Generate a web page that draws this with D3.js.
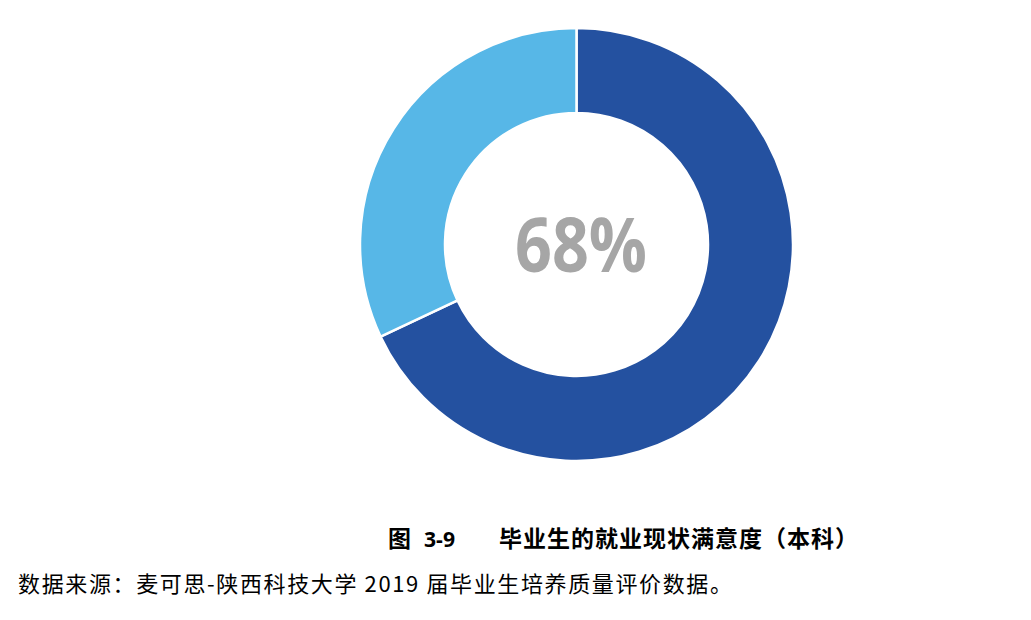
<!DOCTYPE html>
<html>
<head>
<meta charset="utf-8">
<script src="https://cdn.jsdelivr.net/npm/d3@7"></script>
<style>
  html, body { margin: 0; padding: 0; background: #fff; }
  svg { display: block; }
</style>
</head>
<body>
<div id="chart"></div>
<script>
// chart data
const categories = ["满意", "不满意"];
const values = [68, 32];
const sliceColors = ["#2451a0", "#57b7e7"];
const centerLabel = "68%";
const figNo = "3-9";
const figTitle = "毕业生的就业现状满意度（本科）";
const sourceNote = "数据来源：麦可思-陕西科技大学 2019 届毕业生培养质量评价数据。";

const width = 1031, height = 620;
const cx = 576.5, cy = 244.5;
const outerR = 216.5, innerR = 131.5;

const svg = d3.select("#chart").append("svg")
    .attr("width", width)
    .attr("height", height);

let color = d3.scaleOrdinal().domain(categories).range(sliceColors);

let pie = d3.pie().sort(null).value(d => d.value);
let arc = d3.arc().innerRadius(innerR).outerRadius(outerR);

let data = categories.map((c, i) => ({name: c, value: values[i]}));

let donut = svg.append("g")
    .attr("id", "donut")
    .attr("transform", "translate(" + cx + "," + cy + ")");

donut.selectAll("path")
    .data(pie(data))
    .enter()
    .append("path")
    .attr("d", arc)
    .style("fill", d => color(d.data.name))
    .style("stroke", "#ffffff")
    .style("stroke-width", 2.5);

// big percentage in the hole
donut.append("text")
    .attr("x", 4.5)
    .attr("y", 27.5)
    .attr("text-anchor", "middle")
    .attr("textLength", 132)
    .attr("lengthAdjust", "spacingAndGlyphs")
    .style("font-family", "'Open Sans', 'Liberation Sans', sans-serif")
    .style("font-weight", "bold")
    .style("font-size", "76px")
    .style("fill", "#a6a6a6")
    .text(centerLabel);

// caption
let cap = svg.append("g").attr("id", "caption")
    .style("font-family", "'Noto Sans CJK SC', sans-serif")
    .style("font-weight", "bold")
    .style("fill", "#000");

cap.append("text").attr("x", 388).attr("y", 547)
    .style("font-size", "23px").text("图");
cap.append("text").attr("x", 424).attr("y", 547)
    .style("font-family", "'Open Sans', 'Liberation Sans', sans-serif")
    .style("font-size", "21px")
    .attr("textLength", 31).attr("lengthAdjust", "spacingAndGlyphs")
    .text(figNo);
cap.append("text").attr("x", 499).attr("y", 547)
    .style("font-size", "23px")
    .style("letter-spacing", "1px")
    .text(figTitle);

// source note
svg.append("text")
    .attr("x", 18)
    .attr("y", 592)
    .attr("textLength", 714)
    .attr("lengthAdjust", "spacing")
    .style("font-family", "'Noto Sans CJK SC', sans-serif")
    .style("font-size", "22px")
    .style("fill", "#000")
    .text(sourceNote);
</script>
</body>
</html>
